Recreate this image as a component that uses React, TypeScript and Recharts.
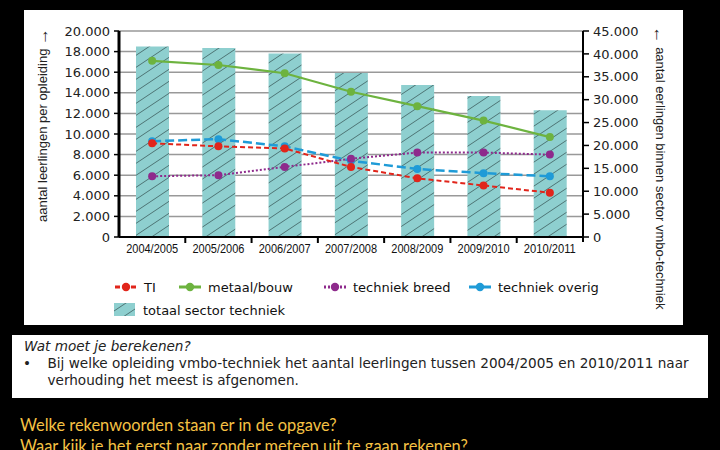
import React from "react";
import {
  ComposedChart,
  Bar,
  Line,
  XAxis,
  YAxis,
  CartesianGrid,
  Legend,
  Label,
} from "recharts";

const jaren = [
  "2004/2005",
  "2005/2006",
  "2006/2007",
  "2007/2008",
  "2008/2009",
  "2009/2010",
  "2010/2011",
];
const totaalSector = [41600, 41300, 40100, 35800, 33200, 30800, 27700];
const ti = [9100, 8800, 8600, 6800, 5700, 5000, 4300];
const metaalBouw = [17100, 16700, 15900, 14100, 12700, 11300, 9700];
const techniekBreed = [5900, 6000, 6800, 7600, 8200, 8200, 8000];
const techniekOverig = [9300, 9500, 8800, 7400, 6600, 6200, 5900];

const ticksLinks = [0, 2000, 4000, 6000, 8000, 10000, 12000, 14000, 16000, 18000, 20000];
const ticksRechts = [0, 5000, 10000, 15000, 20000, 25000, 30000, 35000, 40000, 45000];

const data = jaren.map((jaar, i) => ({
  jaar,
  totaal: totaalSector[i],
  ti: ti[i],
  metaal: metaalBouw[i],
  breed: techniekBreed[i],
  overig: techniekOverig[i],
}));

// legend order
const series = [
  { key: "ti", naam: "TI", kleur: "#e1251b", dash: "5 3", w: 2, lx: 91 },
  { key: "metaal", naam: "metaal/bouw", kleur: "#6db33f", dash: undefined, w: 2.2, lx: 155 },
  { key: "breed", naam: "techniek breed", kleur: "#8e2a8c", dash: "2 2", w: 2, lx: 300 },
  { key: "overig", naam: "techniek overig", kleur: "#1f9bd7", dash: "9 4", w: 2.5, lx: 445 },
];
// draw order (TI on top)
const tekenVolgorde = ["overig", "breed", "metaal", "ti"];

const W = 659;
const H = 315;
const PLOT_W = 464;
const BAND = PLOT_W / jaren.length;

const AXIS_FONT = "'DejaVu Sans', sans-serif";
const LABEL_FONT = "'Liberation Sans', Arial, sans-serif";
const BAR_FILL = "#8ecfcf";

const fmt = (v: number) => (v === 0 ? "0" : (v / 1000).toFixed(3));

const XTick = (props: any) => {
  const { x, y, payload, index } = props;
  return (
    <g>
      {index > 0 && (
        <line x1={x - BAND / 2} x2={x - BAND / 2} y1={y} y2={y + 6} stroke="#000" strokeWidth={2} />
      )}
      {index === jaren.length - 1 && (
        <line x1={x + BAND / 2} x2={x + BAND / 2} y1={y} y2={y + 5} stroke="#000" strokeWidth={2} />
      )}
      <text
        x={x}
        y={y + 16}
        textAnchor="middle"
        fontFamily={LABEL_FONT}
        fontSize={12.5}
        fill="#111"
        textLength={52}
        lengthAdjust="spacingAndGlyphs"
      >
        {payload.value}
      </text>
    </g>
  );
};

const LinksLabel = (props: any) => {
  const { x, y, height } = props.viewBox;
  const cx = x + 18;
  const cy = y + height / 2 - 9;
  return (
    <text
      x={cx}
      y={cy}
      transform={`rotate(-90 ${cx} ${cy})`}
      textAnchor="middle"
      dominantBaseline="central"
      fontFamily={LABEL_FONT}
      fontSize={13}
      fill="#222"
    >
      aantal leerlingen per opleiding <tspan fontSize={17}>→</tspan>
    </text>
  );
};

const RechtsLabel = (props: any) => {
  const { x, y, height } = props.viewBox;
  const cx = x + 77;
  const cy = y + height / 2 + 34;
  return (
    <text
      x={cx}
      y={cy}
      transform={`rotate(90 ${cx} ${cy})`}
      textAnchor="middle"
      dominantBaseline="central"
      fontFamily={LABEL_FONT}
      fontSize={13}
      fill="#222"
    >
      <tspan fontSize={17}>←</tspan> aantal eerlingen binnen sector vmbo-techniek
    </text>
  );
};

const Legenda = () => (
  <svg width={W} height={55}>
    <defs>
      <pattern id="hatchLeg" patternUnits="userSpaceOnUse" width="18" height="12">
        <rect width="18" height="12" fill={BAR_FILL} />
        <path d="M0,12 L18,0 M-9,6 L9,-6 M9,18 L27,6" stroke="#3c5c5c" strokeWidth="0.8" />
      </pattern>
    </defs>
    {series.map((s) => (
      <g key={s.key}>
        <line
          x1={s.lx}
          x2={s.lx + 22}
          y1={12}
          y2={12}
          stroke={s.kleur}
          strokeWidth={3}
          strokeDasharray={s.dash}
        />
        <circle cx={s.lx + 11} cy={12} r={4.2} fill={s.kleur} />
        <text
          x={s.lx + 29}
          y={12}
          dominantBaseline="central"
          fontFamily={AXIS_FONT}
          fontSize={13}
          fill="#111"
        >
          {s.naam}
        </text>
      </g>
    ))}
    <rect x={90} y={28} width={21} height={13} fill="url(#hatchLeg)" />
    <text x={119} y={35} dominantBaseline="central" fontFamily={AXIS_FONT} fontSize={13} fill="#111">
      totaal sector techniek
    </text>
  </svg>
);

export default function App() {
  return (
    <div
      style={{
        position: "absolute",
        left: 0,
        top: 0,
        width: 720,
        height: 450,
        background: "#000",
        overflow: "hidden",
      }}
    >
      <div style={{ position: "absolute", left: 24, top: 10, width: W, height: H, background: "#fff" }}>
        <ComposedChart width={W} height={H} data={data} margin={{ top: 21, right: 0, bottom: 0, left: 0 }}>
          <defs>
            <pattern id="hatch" patternUnits="userSpaceOnUse" width="18" height="12">
              <rect width="18" height="12" fill={BAR_FILL} />
              <path d="M0,12 L18,0 M-9,6 L9,-6 M9,18 L27,6" stroke="#3c5c5c" strokeWidth="0.8" />
            </pattern>
          </defs>
          <CartesianGrid yAxisId="links" vertical={false} stroke="#999" strokeWidth={1.5} />
          <XAxis
            dataKey="jaar"
            height={88}
            axisLine={{ stroke: "#000", strokeWidth: 2 }}
            tickLine={false}
            tickSize={0}
            tickMargin={0}
            interval={0}
            tick={<XTick />}
          />
          <YAxis
            yAxisId="links"
            width={95}
            domain={[0, 20000]}
            ticks={ticksLinks}
            interval={0}
            tickFormatter={fmt}
            axisLine={{ stroke: "#000", strokeWidth: 3 }}
            tickLine={{ stroke: "#000", strokeWidth: 1.5 }}
            tickSize={5}
            tickMargin={4}
            tick={{ fill: "#222", fontSize: 13, fontFamily: AXIS_FONT }}
          >
            <Label content={<LinksLabel />} />
          </YAxis>
          <YAxis
            yAxisId="rechts"
            orientation="right"
            width={100}
            domain={[0, 45000]}
            ticks={ticksRechts}
            interval={0}
            tickFormatter={fmt}
            axisLine={{ stroke: "#000", strokeWidth: 2 }}
            tickLine={{ stroke: "#000", strokeWidth: 1.5 }}
            tickSize={6}
            tickMargin={4}
            tick={{ fill: "#222", fontSize: 13, fontFamily: AXIS_FONT }}
          >
            <Label content={<RechtsLabel />} />
          </YAxis>
          <Bar
            yAxisId="rechts"
            dataKey="totaal"
            barSize={33}
            fill="url(#hatch)"
            isAnimationActive={false}
          />
          {tekenVolgorde.map((k) => {
            const s = series.find((x) => x.key === k)!;
            return (
              <Line
                key={k}
                yAxisId="links"
                type="linear"
                dataKey={k}
                stroke={s.kleur}
                strokeWidth={s.w}
                strokeDasharray={s.dash}
                dot={{ r: 4, fill: s.kleur, stroke: s.kleur, strokeWidth: 0 }}
                activeDot={false}
                isAnimationActive={false}
              />
            );
          })}
          <Legend
            layout="horizontal"
            verticalAlign="middle"
            align="center"
            wrapperStyle={{ left: 0, top: 265, width: W, height: 55 }}
            content={<Legenda />}
          />
        </ComposedChart>
      </div>

      <svg
        width={696}
        height={63}
        style={{ position: "absolute", left: 12, top: 335, background: "#fff" }}
      >
        <text x={12} y={16} fontFamily={AXIS_FONT} fontStyle="italic" fontSize={13.6} fill="#222">
          Wat moet je berekenen?
        </text>
        <text x={11} y={33} fontFamily={AXIS_FONT} fontSize={13.6} fill="#222">
          •
        </text>
        <text x={35.5} y={33} fontFamily={AXIS_FONT} fontSize={13.6} fill="#222">
          Bij welke opleiding vmbo-techniek het aantal leerlingen tussen 2004/2005 en 2010/2011 naar
        </text>
        <text x={35.5} y={50} fontFamily={AXIS_FONT} fontSize={13.6} fill="#222">
          verhouding het meest is afgenomen.
        </text>
      </svg>

      <div
        style={{
          position: "absolute",
          left: 20,
          top: 414,
          fontFamily: "Lato, 'Open Sans', sans-serif",
          fontSize: 16.4,
          lineHeight: "21px",
          color: "#f5c244",
          whiteSpace: "nowrap",
        }}
      >
        <div>Welke rekenwoorden staan er in de opgave?</div>
        <div>Waar kijk je het eerst naar zonder meteen uit te gaan rekenen?</div>
      </div>
    </div>
  );
}
